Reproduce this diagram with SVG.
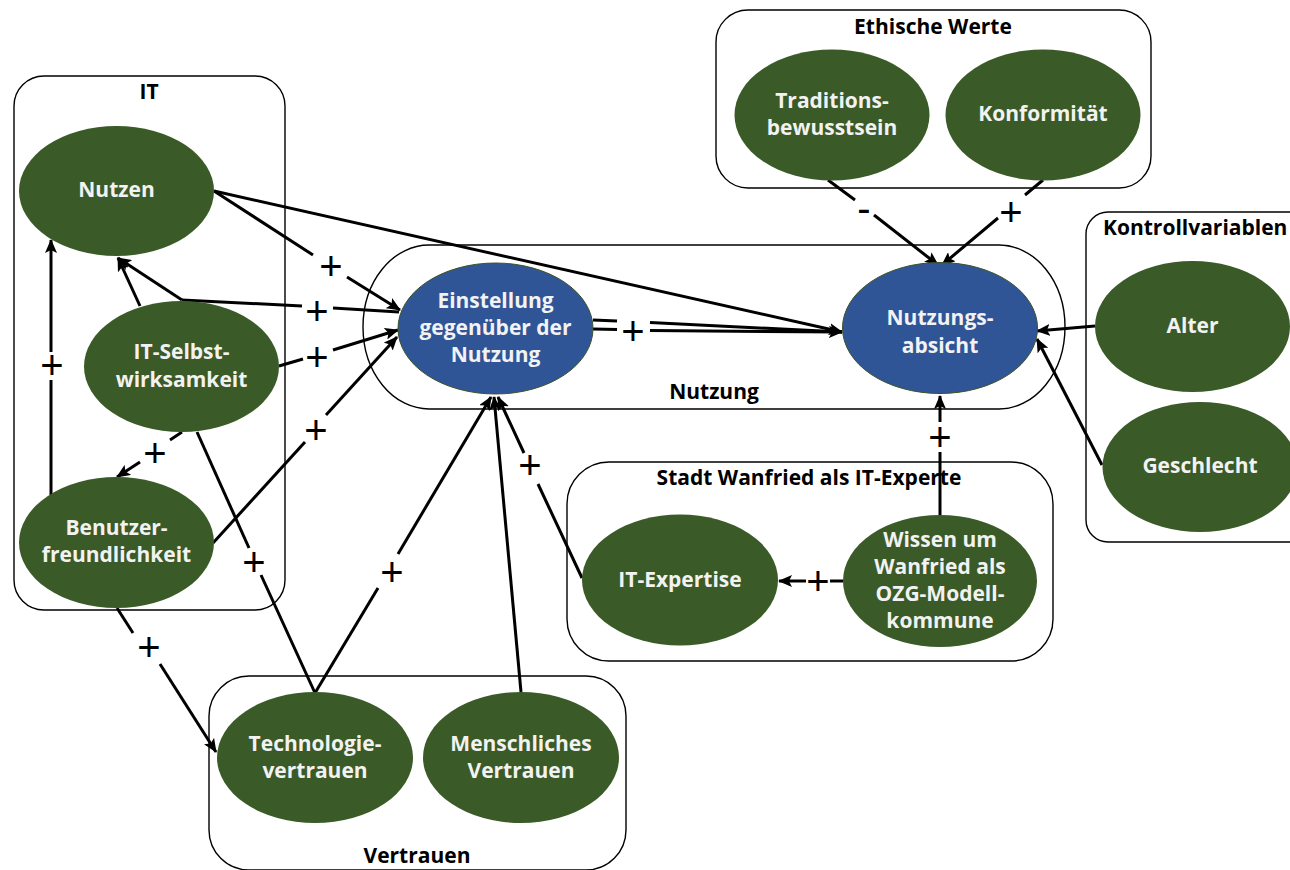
<svg xmlns="http://www.w3.org/2000/svg" width="1290" height="870" viewBox="0 0 1290 870">
<style>
.box{fill:none;stroke:#000;stroke-width:1.4}
.blab{font-family:"Open Sans","Liberation Sans",sans-serif;font-weight:700;font-size:21px;fill:#000;text-anchor:middle}
.g{fill:#3a5a27}
.b{fill:#2f5597;stroke:#3d5226;stroke-width:1}
.nt{font-family:"Open Sans","Liberation Sans",sans-serif;font-weight:700;font-size:21px;fill:#f2f2f2;text-anchor:middle}
.c{fill:none;stroke:#000;stroke-width:3}
.ca{fill:none;stroke:#000;stroke-width:3;marker-end:url(#ah)}
.lab{font-family:"Liberation Sans",sans-serif;font-size:40px;fill:#000;text-anchor:middle}
</style>
<defs>
<marker id="ah" viewBox="0 0 14 12" refX="13" refY="6" markerWidth="14" markerHeight="12" markerUnits="userSpaceOnUse" orient="auto">
<path d="M0,0 L14,6 L0,12 L3,6 z" fill="#000"/>
</marker>
</defs>
<rect fill="#fff" x="0" y="0" width="1290" height="870"/>

<g id="containers">
<g id="grp-it"><rect class="box" x="14" y="76" width="271" height="534" rx="30"/><text class="blab" x="149" y="99">IT</text></g>
<g id="grp-nutzung"><rect class="box" x="363" y="245" width="702" height="164" rx="66" ry="82"/><text class="blab" x="714" y="399">Nutzung</text></g>
<g id="grp-ethik"><rect class="box" x="716" y="10" width="435" height="178" rx="32"/><text class="blab" x="933" y="34">Ethische Werte</text></g>
<g id="grp-kontroll"><rect class="box" x="1086" y="212" width="240" height="330" rx="22"/><text class="blab" x="1103" y="235" style="text-anchor:start">Kontrollvariablen</text></g>
<g id="grp-stadt"><rect class="box" x="567" y="462" width="486" height="199" rx="42"/><text class="blab" x="809" y="485">Stadt Wanfried als IT-Experte</text></g>
<g id="grp-vertrauen"><rect class="box" x="209" y="676" width="417" height="194" rx="40"/><text class="blab" x="417" y="863">Vertrauen</text></g>
</g>

<g id="connectors">
<line class="c" x1="214" y1="191" x2="313" y2="255"/><line class="ca" x1="347" y1="277" x2="400" y2="310"/>
<line class="ca" x1="214" y1="191" x2="842" y2="332"/>
<line class="ca" x1="182" y1="300" x2="118" y2="258"/>
<line class="ca" x1="140" y1="306" x2="118" y2="258"/>
<line class="c" x1="182" y1="300" x2="302" y2="306"/><line class="c" x1="333" y1="308" x2="399" y2="312"/>
<line class="c" x1="279" y1="366" x2="303" y2="359"/><line class="ca" x1="333" y1="350" x2="398" y2="330"/>
<line class="c" x1="213" y1="543" x2="305" y2="442"/><line class="ca" x1="326" y1="415" x2="397" y2="337"/>
<line class="c" x1="182" y1="432" x2="170" y2="440"/><line class="ca" x1="140" y1="462" x2="117" y2="477"/>
<line class="c" x1="51" y1="495" x2="51" y2="380"/><line class="ca" x1="51" y1="352" x2="51" y2="240"/>
<line class="c" x1="197" y1="432" x2="249" y2="548"/><line class="c" x1="261" y1="575" x2="315" y2="693"/>
<line class="c" x1="315" y1="693" x2="378" y2="588"/><line class="ca" x1="398" y1="554" x2="491" y2="397"/>
<line class="ca" x1="521" y1="692" x2="494" y2="397"/>
<line class="c" x1="582" y1="578" x2="538" y2="484"/><line class="ca" x1="524" y1="453" x2="498" y2="397"/>
<line class="c" x1="593" y1="320" x2="617" y2="321"/><line class="c" x1="593" y1="329" x2="617" y2="329.5"/>
<line class="c" x1="650" y1="322.5" x2="842" y2="332"/><line class="ca" x1="650" y1="330.5" x2="842" y2="332"/>
<line class="c" x1="828" y1="180" x2="855" y2="200"/><line class="ca" x1="874" y1="215" x2="938" y2="265"/>
<line class="c" x1="1043" y1="180" x2="1025" y2="195"/><line class="ca" x1="998" y1="218" x2="942" y2="265"/>
<line class="ca" x1="1095" y1="326" x2="1037" y2="331"/>
<line class="ca" x1="1102" y1="465" x2="1037" y2="339"/>
<line class="c" x1="940" y1="515" x2="940" y2="452"/><line class="ca" x1="940" y1="422" x2="940" y2="396"/>
<line class="c" x1="843" y1="581" x2="830" y2="581"/><line class="ca" x1="806" y1="581" x2="779" y2="581"/>
<line class="c" x1="117" y1="608" x2="133" y2="633"/><line class="ca" x1="160" y1="664" x2="216" y2="752"/>
<text class="lab" x="331" y="280">+</text>
<text class="lab" x="317" y="325">+</text>
<text class="lab" x="317" y="371">+</text>
<text class="lab" x="316" y="444">+</text>
<text class="lab" x="155" y="467">+</text>
<text class="lab" x="52" y="379">+</text>
<text class="lab" x="254" y="576">+</text>
<text class="lab" x="392" y="586">+</text>
<text class="lab" x="530" y="479">+</text>
<text class="lab" x="633" y="345">+</text>
<text class="lab" x="864" y="222">-</text>
<text class="lab" x="1011" y="226">+</text>
<text class="lab" x="940" y="451">+</text>
<text class="lab" x="818" y="595">+</text>
<text class="lab" x="149" y="661">+</text>
</g>

<g id="n-nutzen"><ellipse class="g" cx="116.5" cy="191" rx="97.5" ry="65"/><text class="nt" x="116.5" y="197">Nutzen</text></g>
<g id="n-selbst"><ellipse class="g" cx="181.5" cy="366.5" rx="97.5" ry="65.5"/><text class="nt" x="181.5" y="359">IT-Selbst-</text><text class="nt" x="181.5" y="387">wirksamkeit</text></g>
<g id="n-benutzer"><ellipse class="g" cx="116.5" cy="542.5" rx="97.5" ry="65.5"/><text class="nt" x="116.5" y="535">Benutzer-</text><text class="nt" x="116.5" y="562">freundlichkeit</text></g>
<g id="n-einstellung"><ellipse class="b" cx="495.5" cy="328.5" rx="97.5" ry="65.5"/><text class="nt" x="495.5" y="308">Einstellung</text><text class="nt" x="495.5" y="335">gegenüber der</text><text class="nt" x="495.5" y="362">Nutzung</text></g>
<g id="n-absicht"><ellipse class="b" cx="940" cy="328" rx="97.5" ry="65.5"/><text class="nt" x="940" y="325">Nutzungs-</text><text class="nt" x="940" y="353">absicht</text></g>
<g id="n-tradition"><ellipse class="g" cx="832" cy="115" rx="97.5" ry="65.5"/><text class="nt" x="832" y="108">Traditions-</text><text class="nt" x="832" y="135">bewusstsein</text></g>
<g id="n-konform"><ellipse class="g" cx="1043" cy="115" rx="97.5" ry="65.5"/><text class="nt" x="1043" y="121">Konformität</text></g>
<g id="n-alter"><ellipse class="g" cx="1192.5" cy="326.5" rx="97.5" ry="65.5"/><text class="nt" x="1192.5" y="333">Alter</text></g>
<g id="n-geschlecht"><ellipse class="g" cx="1200" cy="467" rx="97.5" ry="65"/><text class="nt" x="1200" y="473">Geschlecht</text></g>
<g id="n-expertise"><ellipse class="g" cx="680" cy="580" rx="98" ry="65.5"/><text class="nt" x="680" y="587">IT-Expertise</text></g>
<g id="n-wissen"><ellipse class="g" cx="940" cy="581" rx="97" ry="66"/><text class="nt" x="940" y="547">Wissen um</text><text class="nt" x="940" y="574">Wanfried als</text><text class="nt" x="940" y="601">OZG-Modell-</text><text class="nt" x="940" y="628">kommune</text></g>
<g id="n-techvertrauen"><ellipse class="g" cx="315" cy="757.5" rx="98" ry="65.5"/><text class="nt" x="315" y="751">Technologie-</text><text class="nt" x="315" y="778">vertrauen</text></g>
<g id="n-menschlich"><ellipse class="g" cx="521" cy="757.5" rx="98" ry="65.5"/><text class="nt" x="521" y="751">Menschliches</text><text class="nt" x="521" y="778">Vertrauen</text></g>
</svg>
